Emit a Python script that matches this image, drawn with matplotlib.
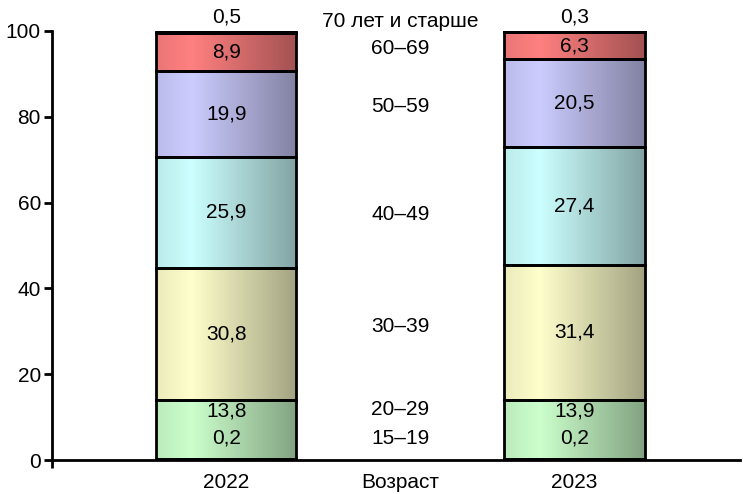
import numpy as np
import matplotlib
matplotlib.use('Agg')
import matplotlib.pyplot as plt
from matplotlib.colors import to_rgb

plt.rcParams['font.family'] = ['Liberation Sans', 'DejaVu Sans']

# данные
years = ['2022', '2023']
groups = ['15–19', '20–29', '30–39', '40–49', '50–59', '60–69', '70 лет и старше']
v2022 = [0.2, 13.8, 30.8, 25.9, 19.9, 8.9, 0.5]
v2023 = [0.2, 13.9, 31.4, 27.4, 20.5, 6.3, 0.3]
colors = ['#ccffcc', '#ccffcc', '#ffffcc', '#ccffff', '#ccccff', '#ff8080', '#ff8080']
group_label_y = [4.9, 11.7, 31.2, 57.3, 82.3, 96.0, 102.1]

FS = 15

fig = plt.figure(figsize=(7.43, 4.94), dpi=100)
ax = fig.add_axes([52/743, 34/494, 688/743, 429/494])

xpos = [0, 2]
width = 0.805
data = [v2022, v2023]


def shade(col):
    # горизонтальный градиент: светлее слева, темнее справа
    c = np.array(to_rgb(col))
    t = np.linspace(0, 1, 64)
    f = np.where(t < 0.25, 0.92 + 0.08 * t / 0.25, 1.0 - 0.36 * (t - 0.25) / 0.75)
    light = np.clip(c[None, :] * f[:, None], 0, 1)
    return light[None, :, :]


for xi, vals in zip(xpos, data):
    bottom = 0
    for k, v in enumerate(vals):
        bars = ax.bar(xi, v, width, bottom=bottom, color='none', edgecolor='black',
                      linewidth=2, zorder=3)
        p = bars[0]
        im = ax.imshow(shade(colors[k]), extent=[p.get_x(), p.get_x() + p.get_width(),
                       bottom, bottom + v], aspect='auto', zorder=2, interpolation='bilinear')
        im.set_clip_path(p)
        bottom += v

    # подписи значений
    cum = np.cumsum([0] + vals)
    ax.text(xi, 5.1, f'{vals[0]}'.replace('.', ','), ha='center', va='center', fontsize=FS, zorder=5)
    ax.text(xi, 11.4, f'{vals[1]}'.replace('.', ','), ha='center', va='center', fontsize=FS, zorder=5)
    for k in range(2, 6):
        ax.text(xi, (cum[k] + cum[k + 1]) / 2, f'{vals[k]}'.replace('.', ','),
                ha='center', va='center', fontsize=FS, zorder=5)
    ax.text(xi, 103.3, f'{vals[6]}'.replace('.', ','), ha='center', va='center', fontsize=FS, zorder=5)

for g, gy in zip(groups, group_label_y):
    ax.text(1, gy, g, ha='center', va='center', fontsize=FS, zorder=5)

ax.set_xlim(-1.0, 2.95)
ax.set_ylim(0, 100)
ax.set_yticks([0, 20, 40, 60, 80, 100])
ax.set_xticks([0, 1, 2])
ax.set_xticklabels(['2022', 'Возраст', '2023'])
ax.set_xticks([-1, 1], minor=True)
ax.tick_params(axis='x', which='major', length=0, labelsize=FS, pad=9)
ax.tick_params(axis='x', which='minor', length=6, width=2)
ax.tick_params(axis='y', length=6, width=2, labelsize=FS, pad=2)
for s in ['top', 'right']:
    ax.spines[s].set_visible(False)
for s in ['left', 'bottom']:
    ax.spines[s].set_linewidth(2)

fig.savefig('out.png', dpi=100)
